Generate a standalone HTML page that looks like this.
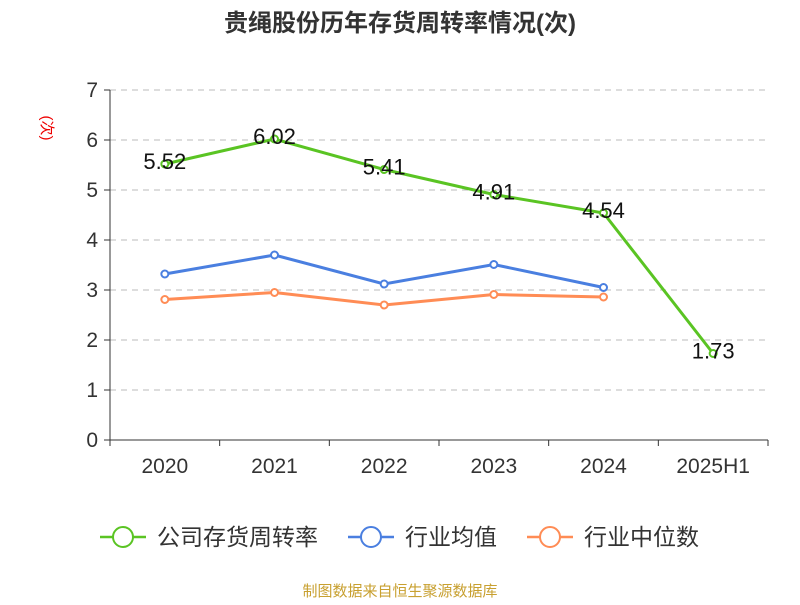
<!DOCTYPE html>
<html><head><meta charset="utf-8"><style>
body{margin:0;background:#fff;width:800px;height:600px;overflow:hidden;font-family:"Liberation Sans","Noto Sans CJK SC",sans-serif}
</style></head><body>
<svg id="c" width="800" height="600" font-family="Liberation Sans, Noto Sans CJK SC, sans-serif"></svg>
<script>
const categories=["2020","2021","2022","2023","2024","2025H1"];
const companyValues=[5.52,6.02,5.41,4.91,4.54,1.73];
const avgValues=[3.32,3.70,3.12,3.51,3.05];
const medianValues=[2.81,2.95,2.70,2.91,2.86];
const yTicks=[0,1,2,3,4,5,6,7];
const NS="http://www.w3.org/2000/svg";
const svg=document.getElementById('c');
const x0=110,x1=768,y0=440,yTop=90,yMax=7;
const bw=(x1-x0)/categories.length;
const xs=i=>x0+bw*(i+0.5);
const ys=v=>y0-(y0-yTop)*v/yMax;
function mk(t,a,p){const e=document.createElementNS(NS,t);for(const k in a)e.setAttribute(k,a[k]);(p||svg).appendChild(e);return e;}
let t=mk('text',{x:400,y:31,'text-anchor':'middle','font-size':24,'font-weight':'bold',fill:'#333'});t.textContent='贵绳股份历年存货周转率情况(次)';

t=mk('text',{x:0,y:0,'font-size':15,fill:'#e00','text-anchor':'middle',transform:'translate(42,128) rotate(90)'});t.textContent='(次)';

yTicks.forEach(v=>{
 if(v>0){const g=mk('line',{x1:x0,x2:x1,y1:ys(v),y2:ys(v),stroke:'#bbb','stroke-dasharray':'6,5'});}
 mk('line',{x1:x0-6,x2:x0,y1:ys(v),y2:ys(v),stroke:'#333'});
 const l=mk('text',{x:x0-12,y:ys(v)+7,'text-anchor':'end','font-size':21,fill:'#333'});l.textContent=v;
 
});
mk('line',{x1:x0,x2:x0,y1:yTop,y2:y0,stroke:'#333'});
mk('line',{x1:x0,x2:x1,y1:y0,y2:y0,stroke:'#333'});
for(let i=0;i<=categories.length;i++)mk('line',{x1:x0+bw*i,x2:x0+bw*i,y1:y0,y2:y0+6,stroke:'#333'});
categories.forEach((c,i)=>{const l=mk('text',{x:xs(i),y:473,'text-anchor':'middle','font-size':21,fill:'#333'});l.textContent=c;
 });
function series(vals,color,name,labels){
 const g=mk('g',{});
 mk('polyline',{points:vals.map((v,i)=>xs(i)+','+ys(v)).join(' '),fill:'none',stroke:color,'stroke-width':3},g);
 vals.forEach((v,i)=>{const p=mk('circle',{cx:xs(i),cy:ys(v),r:3.5,fill:'#fff',stroke:color,'stroke-width':2},g);
  
  if(labels){const l=mk('text',{x:xs(i),y:ys(v)+5,'text-anchor':'middle','font-size':22,fill:'#111'},g);l.textContent=v.toFixed(2);
   }});
}
series(medianValues,'#ff8c55','median-series');
series(avgValues,'#4a7fe0','average-series');
series(companyValues,'#5ac423','company-series',true);
const leg=[['公司存货周转率','#5ac423',100],['行业均值','#4a7fe0',348],['行业中位数','#ff8c55',527]];
leg.forEach(([n,c,x])=>{const g=mk('g',{});
 mk('line',{x1:x,x2:x+46,y1:537,y2:537,stroke:c,'stroke-width':2.5},g);
 mk('circle',{cx:x+23,cy:537,r:10,fill:'#fff',stroke:c,'stroke-width':2},g);
 const l=mk('text',{x:x+57,y:545,'font-size':23,fill:'#333'},g);l.textContent=n;});
t=mk('text',{x:400,y:596,'text-anchor':'middle','font-size':15,fill:'#c8a030'});t.textContent='制图数据来自恒生聚源数据库';

</script></body></html>
